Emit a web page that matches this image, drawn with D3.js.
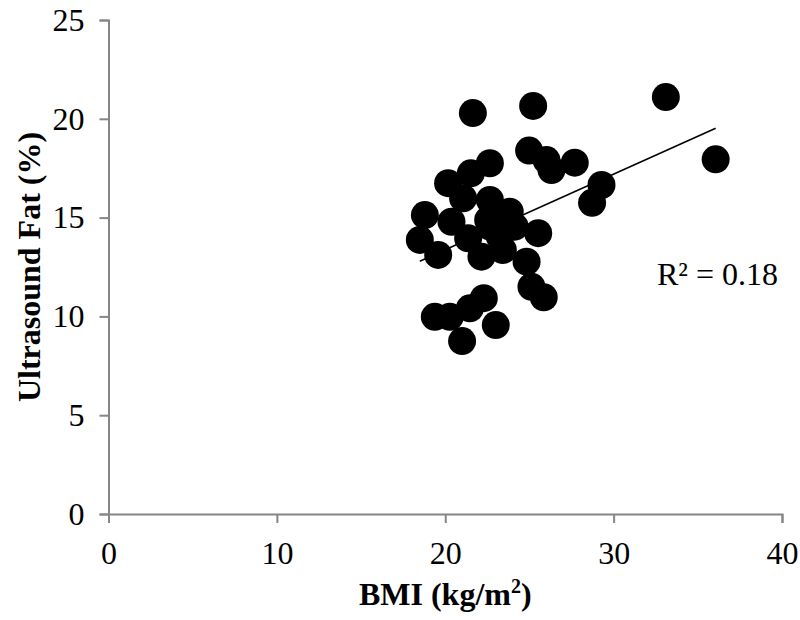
<!DOCTYPE html>
<html>
<head>
<meta charset="utf-8">
<script src="https://cdn.jsdelivr.net/npm/d3@7"></script>
<style>
  body { margin: 0; background: #fff; }
  text { font-family: "Liberation Serif", "Times New Roman", serif; fill: #000; }
</style>
</head>
<body>
<div id="chart"></div>
<script>
// BMI (kg/m2) vs ultrasound fat (%)
const bmi = [33.1, 36.06, 29.28, 28.72, 27.69, 25.22, 21.64, 24.98, 26.01, 26.31,
  22.65, 21.52, 20.17, 21.06, 22.65, 18.79, 20.37, 18.49, 19.58, 21.36,
  22.15, 22.55, 23.83, 24.13, 23.24, 23.42, 25.52, 24.83, 22.65, 19.38,
  20.27, 21.46, 22.29, 23.0, 21.0, 25.12, 25.85];
const fat = [21.1, 17.95, 16.65, 15.75, 17.78, 20.65, 20.29, 18.39, 17.91, 17.41,
  17.75, 17.24, 16.74, 15.98, 15.89, 15.13, 14.79, 13.87, 13.11, 13.95,
  13.02, 14.88, 15.3, 14.54, 14.03, 13.36, 14.21, 12.77, 14.54, 9.98,
  9.98, 10.41, 10.92, 9.56, 8.75, 11.5, 10.97];
const xTicks = [0, 10, 20, 30, 40];
const yTicks = [0, 5, 10, 15, 20, 25];
const r2Label = "R\u00b2 = 0.18";

const width = 800, height = 620;
const margin = { top: 20, right: 18, bottom: 106, left: 108.5 };
const fontSize = "32px";

const svg = d3.select("#chart").append("svg")
  .attr("width", width)
  .attr("height", height);

const x = d3.scaleLinear().domain([0, 40]).range([margin.left, width - margin.right]);
const y = d3.scaleLinear().domain([0, 25]).range([height - margin.bottom, margin.top]);

// axes
const xAxis = svg.append("g")
  .attr("transform", `translate(0,${y(0)})`)
  .call(d3.axisBottom(x).tickValues(xTicks).tickSize(9).tickPadding(18));
const yAxis = svg.append("g")
  .attr("transform", `translate(${x(0)},0)`)
  .call(d3.axisLeft(y).tickValues(yTicks).tickSize(9).tickPadding(15));

[xAxis, yAxis].forEach(a => {
  a.select(".domain").attr("stroke", "#868686").attr("stroke-width", 2);
  a.selectAll(".tick line").attr("stroke", "#868686").attr("stroke-width", 2);
  a.selectAll(".tick text")
    .style("font-family", "'Liberation Serif', serif")
    .style("font-size", fontSize)
    .attr("fill", "#000");
});

// points
svg.append("g").selectAll("circle")
  .data(bmi.map((b, i) => ({ b, f: fat[i] })))
  .enter().append("circle")
  .attr("cx", d => x(d.b))
  .attr("cy", d => y(d.f))
  .attr("r", 14)
  .attr("fill", "#000");

// linear trend line (least squares)
const mx = d3.mean(bmi), my = d3.mean(fat);
const slope = d3.sum(bmi, (b, i) => (b - mx) * (fat[i] - my)) / d3.sum(bmi, b => (b - mx) * (b - mx));
const icpt = my - slope * mx;
const [x0, x1] = d3.extent(bmi);
svg.append("line")
  .attr("x1", x(x0)).attr("y1", y(icpt + slope * x0))
  .attr("x2", x(x1)).attr("y2", y(icpt + slope * x1))
  .attr("stroke", "#000")
  .attr("stroke-width", 1.6);

svg.append("text")
  .attr("x", 657)
  .attr("y", 285)
  .style("font-size", fontSize)
  .text(r2Label);

// axis titles
const xt = svg.append("text")
  .attr("x", (x(0) + x(40)) / 2)
  .attr("y", 605)
  .attr("text-anchor", "middle")
  .style("font-size", fontSize)
  .style("font-weight", "bold");
xt.append("tspan").text("BMI (kg/m");
xt.append("tspan").attr("dy", -12).style("font-size", "20px").text("2");
xt.append("tspan").attr("dy", 12).text(")");

svg.append("text")
  .attr("transform", `translate(40,${(y(0) + y(25)) / 2}) rotate(-90)`)
  .attr("text-anchor", "middle")
  .style("font-size", fontSize)
  .style("font-weight", "bold")
  .text("Ultrasound Fat (%)");
</script>
</body>
</html>
